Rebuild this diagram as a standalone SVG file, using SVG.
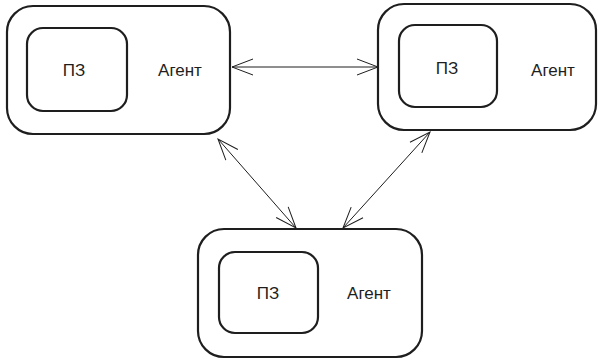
<svg xmlns="http://www.w3.org/2000/svg" width="598" height="360" viewBox="0 0 598 360">
<style>
.outer{fill:#fff;stroke:#1e1e1e;stroke-width:2.2}
.inner{fill:#fff;stroke:#1e1e1e;stroke-width:2.2}
.lbl{font-family:"Liberation Sans","DejaVu Sans",sans-serif;font-size:17px;fill:#1e1e1e;text-anchor:middle;dominant-baseline:central}
.conn{fill:none;stroke:#1e1e1e;stroke-width:1;marker-start:url(#ah);marker-end:url(#ah)}
</style>
<defs>
<marker id="ah" viewBox="0 0 26 26" refX="23" refY="13" markerWidth="26" markerHeight="26" markerUnits="userSpaceOnUse" orient="auto-start-reverse">
<path d="M2,5 L23,13 L2,21" fill="none" stroke="#1e1e1e" stroke-width="1"/>
</marker>
</defs>
<rect width="598" height="360" fill="#fff"/>
<g id="connectors">
<line class="conn" x1="232" y1="67" x2="378" y2="67"/>
<line class="conn" x1="218" y1="139" x2="296" y2="228"/>
<line class="conn" x1="430" y1="132" x2="343" y2="228"/>
</g>
<g id="agent1">
<rect class="outer" x="7" y="6" width="223" height="128" rx="26"/>
<rect class="inner" x="27" y="28" width="100" height="83" rx="16"/>
<text class="lbl" x="74" y="70">ПЗ</text>
<text class="lbl" x="180" y="70">Агент</text>
</g>
<g id="agent2">
<rect class="outer" x="378" y="4" width="218" height="126" rx="26"/>
<rect class="inner" x="399" y="25" width="98" height="82" rx="16"/>
<text class="lbl" x="447" y="68">ПЗ</text>
<text class="lbl" x="553" y="70">Агент</text>
</g>
<g id="agent3">
<rect class="outer" x="198" y="229" width="224" height="128" rx="26"/>
<rect class="inner" x="219" y="252" width="99" height="81" rx="16"/>
<text class="lbl" x="268" y="293">ПЗ</text>
<text class="lbl" x="369" y="293">Агент</text>
</g>
</svg>
